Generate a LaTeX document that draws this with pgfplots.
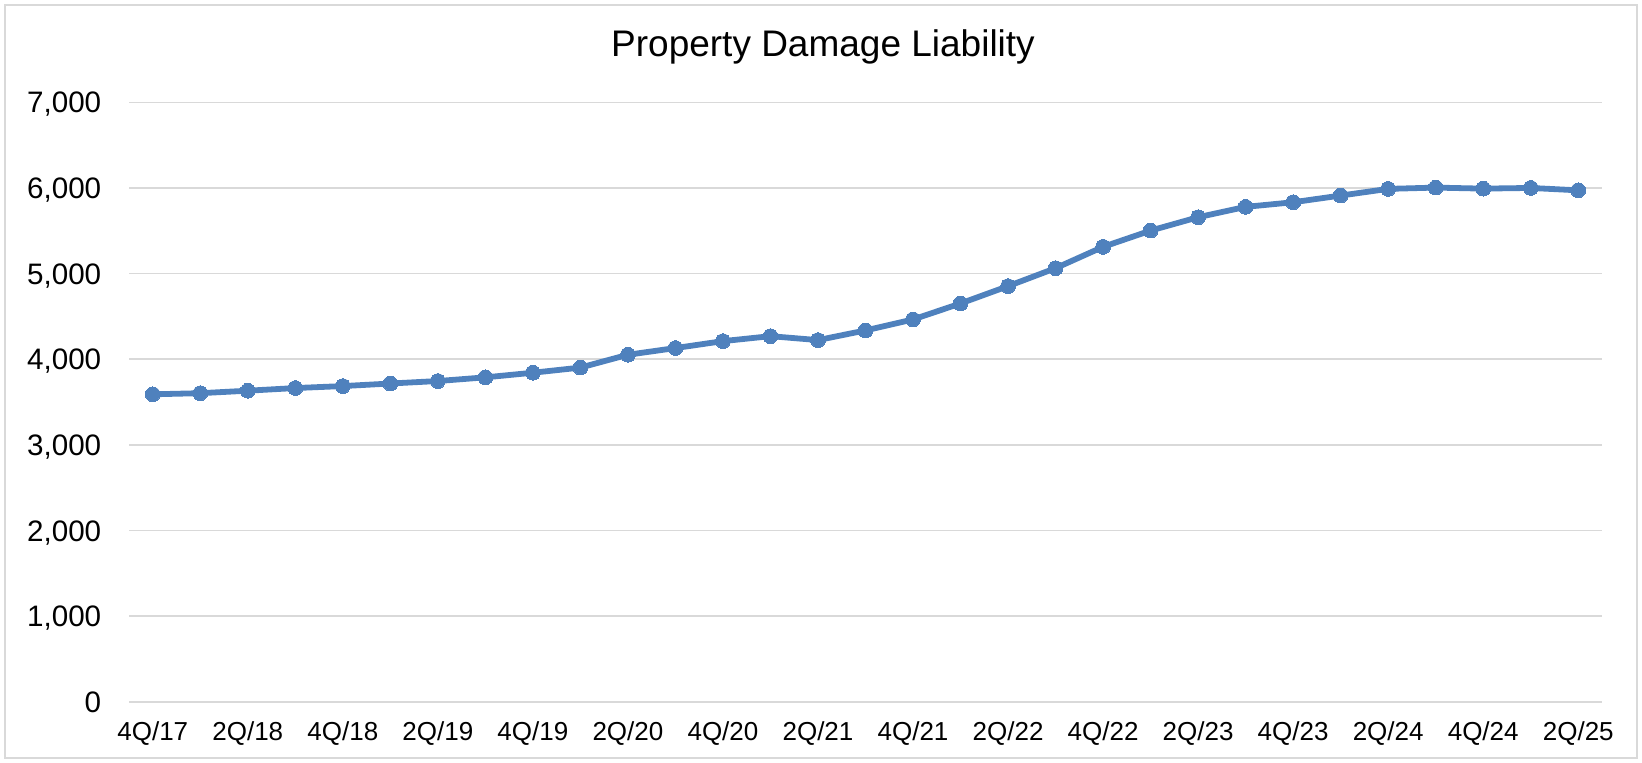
\documentclass[border=0pt]{standalone}
\usepackage{fontspec}
\setmainfont{Liberation Sans}
\usepackage{pgfplots}
\pgfplotsset{compat=1.18}
\usepackage{pgfplotstable}
\definecolor{lineblue}{HTML}{4F81BD}
\definecolor{gridgray}{HTML}{D9D9D9}
\pgfplotstableread{
x y
0 3590
1 3603
2 3632
3 3663
4 3686
5 3716
6 3745
7 3788
8 3842
9 3902
10 4052
11 4130
12 4211
13 4269
14 4223
15 4336
16 4464
17 4651
18 4853
19 5063
20 5312
21 5502
22 5658
23 5779
24 5833
25 5911
26 5989
27 6004
28 5992
29 6000
30 5972
}\pdldata
\begin{document}
\begin{tikzpicture}
\useasboundingbox (0,0) rectangle (821pt,381pt);
\draw[gridgray, line width=1pt] (2.5pt,2pt) rectangle (818.5pt,378.5pt);
\node[anchor=base, font=\fontsize{18.5}{22}\selectfont] at (411.5pt,352.6pt) {Property Damage Liability};
\begin{axis}[
  at={(64.5pt,30.15pt)}, anchor=south west,
  scale only axis, width=736.5pt, height=299.7pt,
  xmin=-0.5, xmax=30.5, ymin=0, ymax=7000,
  axis line style={draw=none},
  ytick={0,1000,...,7000},
  ymajorgrids, grid style={gridgray, line width=0.8pt},
  major tick length=0pt,
  xtick={0,2,...,30},
  xticklabels={4Q/17,2Q/18,4Q/18,2Q/19,4Q/19,2Q/20,4Q/20,2Q/21,4Q/21,2Q/22,4Q/22,2Q/23,4Q/23,2Q/24,4Q/24,2Q/25},
  /pgf/number format/assume math mode=true,
  /pgf/number format/fixed,
  /pgf/number format/1000 sep={,},
  scaled y ticks=false,
  y tick label style={font=\fontsize{14.8}{17}\selectfont, anchor=base east, inner sep=0pt, xshift=-13.7pt, yshift=-5.3pt},
  x tick label style={font=\fontsize{13}{15}\selectfont, anchor=base, inner sep=0pt, yshift=-19.6pt},
  clip=false,
]
\addplot[lineblue, line width=2.9pt, mark=*, mark size=3.7pt, mark options={solid, fill=lineblue, draw=lineblue, line width=0pt}] table[x=x, y=y] {\pdldata};
\end{axis}
\end{tikzpicture}
\end{document}
